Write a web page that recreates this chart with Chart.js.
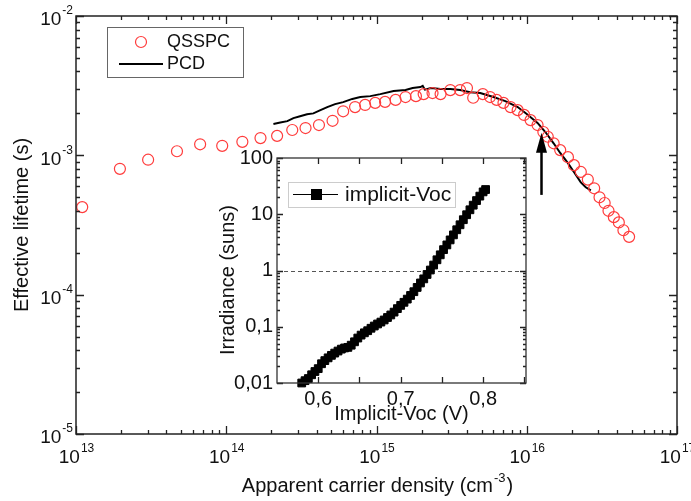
<!DOCTYPE html>
<html>
<head>
<meta charset="utf-8">
<script src="https://cdn.jsdelivr.net/npm/chart.js@4.4.1/dist/chart.umd.min.js"></script>
<style>
  html, body { margin: 0; padding: 0; background: #fff; }
  #wrap { position: relative; width: 691px; height: 501px; overflow: hidden; }
  #mainChart { position: absolute; left: 0; top: 0; }
  #insetChart { position: absolute; left: 200px; top: 150px; }
</style>
</head>
<body>
<div id="wrap">
  <canvas id="mainChart" width="691" height="501"></canvas>
  <canvas id="insetChart" width="340" height="275"></canvas>
</div>
<script>
// QSSPC lifetime vs apparent carrier density (red open circles)
const qsspcDensity = [
  1.1e13, 1.96e13, 3.02e13, 4.7e13, 6.7e13, 9.4e13, 1.28e14, 1.69e14, 2.18e14, 2.75e14,
  3.37e14, 4.14e14, 5.1e14, 6.0e14, 7.2e14, 8.4e14, 9.8e14, 1.14e15, 1.34e15, 1.56e15,
  1.83e15, 2.06e15, 2.36e15, 2.67e15, 3.1e15, 3.6e15, 4.0e15, 4.4e15, 5.1e15, 5.7e15,
  6.3e15, 7.0e15, 7.8e15, 8.7e15, 9.6e15, 1.06e16, 1.18e16, 1.29e16, 1.38e16, 1.51e16,
  1.67e16, 1.88e16, 2.06e16, 2.29e16, 2.55e16, 2.81e16, 3.05e16, 3.3e16, 3.5e16, 3.8e16,
  4.1e16, 4.4e16, 4.8e16
];
const qsspcLifetime = [
  4.25e-4, 8.0e-4, 9.3e-4, 1.07e-3, 1.2e-3, 1.17e-3, 1.25e-3, 1.33e-3, 1.38e-3, 1.52e-3,
  1.57e-3, 1.65e-3, 1.77e-3, 2.07e-3, 2.22e-3, 2.3e-3, 2.38e-3, 2.42e-3, 2.5e-3, 2.62e-3,
  2.66e-3, 2.75e-3, 2.8e-3, 2.75e-3, 2.94e-3, 2.94e-3, 3.04e-3, 2.59e-3, 2.75e-3, 2.62e-3,
  2.5e-3, 2.38e-3, 2.22e-3, 2.11e-3, 1.95e-3, 1.79e-3, 1.65e-3, 1.47e-3, 1.36e-3, 1.22e-3,
  1.09e-3, 9.7e-4, 8.5e-4, 7.6e-4, 6.7e-4, 5.8e-4, 5.0e-4, 4.55e-4, 4.0e-4, 3.6e-4,
  3.3e-4, 2.9e-4, 2.6e-4
];

// PCD lifetime (black line)
const pcdDensity = [
  2.06e14, 2.29e14, 2.55e14, 2.8e14, 3.1e14, 3.45e14, 3.8e14, 4.2e14, 4.7e14, 5.3e14,
  6.0e14, 6.9e14, 7.8e14, 9.1e14, 1.06e15, 1.3e15, 1.56e15, 1.74e15, 1.96e15, 2.03e15,
  2.1e15, 2.3e15, 2.67e15, 3.1e15, 3.6e15, 4.2e15, 4.9e15, 6.0e15, 7.2e15, 8.7e15,
  1.0e16, 1.18e16, 1.33e16, 1.51e16, 1.67e16, 1.88e16, 2.06e16, 2.29e16, 2.47e16, 2.67e16
];
const pcdLifetime = [
  1.68e-3, 1.72e-3, 1.76e-3, 1.85e-3, 1.91e-3, 1.97e-3, 2.0e-3, 2.1e-3, 2.22e-3, 2.33e-3,
  2.41e-3, 2.54e-3, 2.62e-3, 2.66e-3, 2.75e-3, 2.9e-3, 2.94e-3, 3.04e-3, 3.09e-3, 3.15e-3,
  2.96e-3, 3.04e-3, 2.99e-3, 2.99e-3, 2.94e-3, 2.84e-3, 2.8e-3, 2.62e-3, 2.45e-3, 2.22e-3,
  1.98e-3, 1.71e-3, 1.47e-3, 1.22e-3, 1.04e-3, 8.8e-4, 7.6e-4, 6.4e-4, 5.9e-4, 5.6e-4
];

// inset: irradiance vs implicit Voc
const vocValues = [
  0.580, 0.584, 0.588, 0.592, 0.596, 0.600, 0.604, 0.608, 0.612, 0.616,
  0.620, 0.624, 0.628, 0.632, 0.636, 0.640, 0.644, 0.648, 0.652, 0.656,
  0.660, 0.664, 0.668, 0.672, 0.676, 0.680, 0.684, 0.688, 0.692, 0.696,
  0.700, 0.704, 0.708, 0.712, 0.716, 0.720, 0.724, 0.728, 0.732, 0.736,
  0.740, 0.744, 0.748, 0.752, 0.756, 0.760, 0.764, 0.768, 0.772, 0.776,
  0.780, 0.784, 0.788, 0.792, 0.796, 0.800, 0.803
];
const irradianceValues = [
  0.010, 0.011, 0.012, 0.014, 0.016, 0.018, 0.022, 0.025, 0.028, 0.031,
  0.034, 0.037, 0.040, 0.042, 0.043, 0.047, 0.054, 0.063, 0.071, 0.078,
  0.085, 0.094, 0.103, 0.112, 0.121, 0.132, 0.146, 0.162, 0.182, 0.210,
  0.240, 0.272, 0.31, 0.36, 0.42, 0.50, 0.60, 0.71, 0.85, 1.02,
  1.25, 1.55, 1.90, 2.35, 2.85, 3.5, 4.3, 5.3, 6.5, 8.0,
  9.8, 12.0, 14.5, 17.5, 21.0, 25.0, 27.5
];
const oneSunLevel = 1;

// tick labels
const mainXExponents = [13, 14, 15, 16, 17];
const mainYExponents = [-5, -4, -3, -2];
const insetXTicks = [0.6, 0.7, 0.8];
const insetXLabels = ['0,6', '0,7', '0,8'];
const insetYTicks = [0.01, 0.1, 1, 10, 100];
const insetYLabels = ['0,01', '0,1', '1', '10', '100'];

// arrow marking the 1-sun point on the main curve
const arrowDensity = 1.24e16;
const arrowTip = 1.45e-3;
const arrowTail = 5.2e-4;

const FONT = '"Liberation Sans", Arial, sans-serif';
const RED = 'rgb(255,60,60)';

function toPoints(xs, ys) {
  return xs.map((x, i) => ({ x: x, y: ys[i] }));
}

// all 1..9 x 10^n positions between min and max
function logTicks(min, max) {
  const out = [];
  const e0 = Math.floor(Math.log10(min) + 1e-9);
  const e1 = Math.ceil(Math.log10(max) - 1e-9);
  for (let e = e0; e <= e1; e++) {
    for (let m = 1; m < 10; m++) {
      const v = m * Math.pow(10, e);
      if (v >= min * 0.999 && v <= max * 1.001) out.push({ v: v, major: m === 1 });
    }
  }
  return out;
}

function drawFrame(ctx, area, color, lw) {
  ctx.save();
  ctx.strokeStyle = color;
  ctx.lineWidth = lw;
  ctx.strokeRect(area.left, area.top, area.right - area.left, area.bottom - area.top);
  ctx.restore();
}

function drawXTicks(ctx, scale, area, ticks, majLen, minLen) {
  ctx.save();
  ctx.strokeStyle = '#222';
  ctx.lineWidth = 1.3;
  ctx.beginPath();
  ticks.forEach(t => {
    const px = Math.round(scale.getPixelForValue(t.v)) + 0.5;
    const len = t.major ? majLen : minLen;
    ctx.moveTo(px, area.bottom); ctx.lineTo(px, area.bottom - len);
    ctx.moveTo(px, area.top); ctx.lineTo(px, area.top + len);
  });
  ctx.stroke();
  ctx.restore();
}

function drawYTicks(ctx, scale, area, ticks, majLen, minLen) {
  ctx.save();
  ctx.strokeStyle = '#222';
  ctx.lineWidth = 1.3;
  ctx.beginPath();
  ticks.forEach(t => {
    const py = Math.round(scale.getPixelForValue(t.v)) + 0.5;
    const len = t.major ? majLen : minLen;
    ctx.moveTo(area.left, py); ctx.lineTo(area.left + len, py);
    ctx.moveTo(area.right, py); ctx.lineTo(area.right - len, py);
  });
  ctx.stroke();
  ctx.restore();
}

// "10" with a raised exponent
function drawPower(ctx, exp, x, y, align) {
  const base = '10';
  const sup = String(exp);
  ctx.font = '19px ' + FONT;
  const bw = ctx.measureText(base).width;
  ctx.font = '12px ' + FONT;
  const sw = ctx.measureText(sup).width;
  let start = x;
  if (align === 'center') start = x - (bw + sw) / 2;
  if (align === 'right') start = x - bw - sw;
  ctx.textAlign = 'left';
  ctx.textBaseline = 'middle';
  ctx.font = '19px ' + FONT;
  ctx.fillText(base, start, y + 4);
  ctx.font = '12px ' + FONT;
  ctx.fillText(sup, start + bw + 1, y - 5);
}

const mainDecorations = {
  id: 'mainDecorations',
  afterDraw(chart) {
    const ctx = chart.ctx;
    const area = chart.chartArea;
    const xs = chart.scales.x;
    const ys = chart.scales.y;
    ctx.save();
    ctx.fillStyle = '#111';

    drawXTicks(ctx, xs, area, logTicks(xs.min, xs.max), 8, 4);
    drawYTicks(ctx, ys, area, logTicks(ys.min, ys.max), 8, 4);
    drawFrame(ctx, area, '#222', 1.5);

    mainXExponents.forEach(e => {
      drawPower(ctx, e, xs.getPixelForValue(Math.pow(10, e)), area.bottom + 20, 'center');
    });
    mainYExponents.forEach(e => {
      drawPower(ctx, e, area.left - 4, ys.getPixelForValue(Math.pow(10, e)), 'right');
    });

    // x title with superscript
    ctx.font = '20px ' + FONT;
    const t1 = 'Apparent carrier density (cm';
    const w1 = ctx.measureText(t1).width;
    ctx.font = '13px ' + FONT;
    const w2 = ctx.measureText('-3').width;
    ctx.font = '20px ' + FONT;
    const w3 = ctx.measureText(')').width;
    let sx = (area.left + area.right) / 2 - (w1 + w2 + w3) / 2;
    ctx.textAlign = 'left';
    ctx.textBaseline = 'alphabetic';
    ctx.fillText(t1, sx, 492);
    ctx.font = '13px ' + FONT;
    ctx.fillText('-3', sx + w1 + 1, 482);
    ctx.font = '20px ' + FONT;
    ctx.fillText(')', sx + w1 + w2 + 2, 492);

    // y title
    ctx.save();
    ctx.translate(22, (area.top + area.bottom) / 2);
    ctx.rotate(-Math.PI / 2);
    ctx.textAlign = 'center';
    ctx.textBaseline = 'middle';
    ctx.font = '20px ' + FONT;
    ctx.fillText('Effective lifetime (s)', 0, 0);
    ctx.restore();

    // arrow
    const ax = Math.round(xs.getPixelForValue(arrowDensity)) + 0.5;
    const ayTip = ys.getPixelForValue(arrowTip);
    const ayTail = ys.getPixelForValue(arrowTail);
    ctx.strokeStyle = '#000';
    ctx.lineWidth = 2.5;
    ctx.beginPath();
    ctx.moveTo(ax, ayTail);
    ctx.lineTo(ax, ayTip + 14);
    ctx.stroke();
    ctx.fillStyle = '#000';
    ctx.beginPath();
    ctx.moveTo(ax, ayTip);
    ctx.lineTo(ax - 5.5, ayTip + 20);
    ctx.lineTo(ax + 5.5, ayTip + 20);
    ctx.closePath();
    ctx.fill();

    // legend
    const q = chart.data.datasets[0];
    const p = chart.data.datasets[1];
    ctx.strokeStyle = '#666';
    ctx.lineWidth = 1;
    ctx.strokeRect(107.5, 27.5, 136, 50);
    ctx.strokeStyle = q.borderColor;
    ctx.lineWidth = q.borderWidth;
    ctx.beginPath();
    ctx.arc(141, 42, q.pointRadius, 0, Math.PI * 2);
    ctx.stroke();
    ctx.strokeStyle = p.borderColor;
    ctx.lineWidth = p.borderWidth;
    ctx.beginPath();
    ctx.moveTo(119, 64);
    ctx.lineTo(163, 64);
    ctx.stroke();
    ctx.fillStyle = '#111';
    ctx.font = '18px ' + FONT;
    ctx.textAlign = 'left';
    ctx.textBaseline = 'middle';
    ctx.fillText('QSSPC', 167, 42);
    ctx.fillText('PCD', 167, 64);
    ctx.restore();
  }
};

new Chart(document.getElementById('mainChart'), {
  type: 'scatter',
  data: {
    datasets: [{
      label: 'QSSPC',
      data: toPoints(qsspcDensity, qsspcLifetime),
      showLine: false,
      pointStyle: 'circle',
      pointRadius: 5.5,
      borderColor: RED,
      backgroundColor: 'rgba(0,0,0,0)',
      borderWidth: 1.2
    }, {
      label: 'PCD',
      data: toPoints(pcdDensity, pcdLifetime),
      showLine: true,
      pointRadius: 0,
      borderColor: '#000',
      borderWidth: 2,
      tension: 0
    }]
  },
  options: {
    responsive: false,
    animation: false,
    events: [],
    layout: { padding: { left: 76, right: 14, top: 16, bottom: 67 } },
    scales: {
      x: { type: 'logarithmic', min: 1e13, max: 1e17, display: false },
      y: { type: 'logarithmic', min: 1e-5, max: 1e-2, display: false }
    },
    plugins: { legend: { display: false }, tooltip: { enabled: false } }
  },
  plugins: [mainDecorations]
});

const insetDecorations = {
  id: 'insetDecorations',
  beforeDatasetsDraw(chart) {
    const ctx = chart.ctx;
    const area = chart.chartArea;
    const ys = chart.scales.y;
    ctx.save();
    ctx.fillStyle = '#fff';
    ctx.fillRect(area.left, area.top, area.right - area.left, area.bottom - area.top);
    const py = Math.round(ys.getPixelForValue(oneSunLevel)) + 0.5;
    ctx.strokeStyle = '#555';
    ctx.lineWidth = 1;
    ctx.setLineDash([4, 3]);
    ctx.beginPath();
    ctx.moveTo(area.left, py);
    ctx.lineTo(area.right, py);
    ctx.stroke();
    ctx.restore();
  },
  afterDraw(chart) {
    const ctx = chart.ctx;
    const area = chart.chartArea;
    const xs = chart.scales.x;
    const ys = chart.scales.y;
    ctx.save();
    const xt = [];
    for (let v = 0.6; v < xs.max; v += 0.05) xt.push({ v: v, major: true });
    drawXTicks(ctx, xs, area, xt, 6, 3);
    drawYTicks(ctx, ys, area, logTicks(ys.min, ys.max), 6, 3);
    drawFrame(ctx, area, '#333', 1.3);

    ctx.fillStyle = '#111';
    ctx.font = '20px ' + FONT;
    ctx.textBaseline = 'middle';
    ctx.textAlign = 'center';
    insetXTicks.forEach((v, i) => {
      ctx.fillText(insetXLabels[i], xs.getPixelForValue(v), area.bottom + 16);
    });
    ctx.textAlign = 'right';
    insetYTicks.forEach((v, i) => {
      ctx.fillText(insetYLabels[i], area.left - 4, ys.getPixelForValue(v));
    });
    ctx.textAlign = 'center';
    ctx.fillText('Implicit-Voc (V)', (area.left + area.right) / 2, area.bottom + 31);

    ctx.save();
    ctx.translate(28, 130);
    ctx.rotate(-Math.PI / 2);
    ctx.fillText('Irradiance (suns)', 0, 0);
    ctx.restore();

    // legend
    ctx.strokeStyle = '#ccc';
    ctx.lineWidth = 1;
    ctx.fillStyle = '#fff';
    ctx.fillRect(88.5, 32.5, 167, 25);
    ctx.strokeRect(88.5, 32.5, 167, 25);
    ctx.strokeStyle = '#000';
    ctx.beginPath();
    ctx.moveTo(93, 44.5);
    ctx.lineTo(138, 44.5);
    ctx.stroke();
    ctx.fillStyle = '#000';
    ctx.fillRect(111, 39, 11, 11);
    ctx.fillStyle = '#111';
    ctx.font = '21px ' + FONT;
    ctx.textAlign = 'left';
    ctx.fillText('implicit-Voc', 145, 45);
    ctx.restore();
  }
};

new Chart(document.getElementById('insetChart'), {
  type: 'scatter',
  data: {
    datasets: [{
      label: 'implicit-Voc',
      data: toPoints(vocValues, irradianceValues),
      showLine: true,
      pointStyle: 'rect',
      pointRadius: 5.5,
      backgroundColor: '#000',
      borderColor: '#000',
      borderWidth: 1
    }]
  },
  options: {
    responsive: false,
    animation: false,
    events: [],
    layout: { padding: { left: 77, right: 14, top: 8, bottom: 42 } },
    scales: {
      x: { type: 'linear', min: 0.55, max: 0.852, display: false },
      y: { type: 'logarithmic', min: 0.01, max: 100, display: false }
    },
    plugins: { legend: { display: false }, tooltip: { enabled: false } },
    clip: false
  },
  plugins: [insetDecorations]
});
</script>
</body>
</html>
